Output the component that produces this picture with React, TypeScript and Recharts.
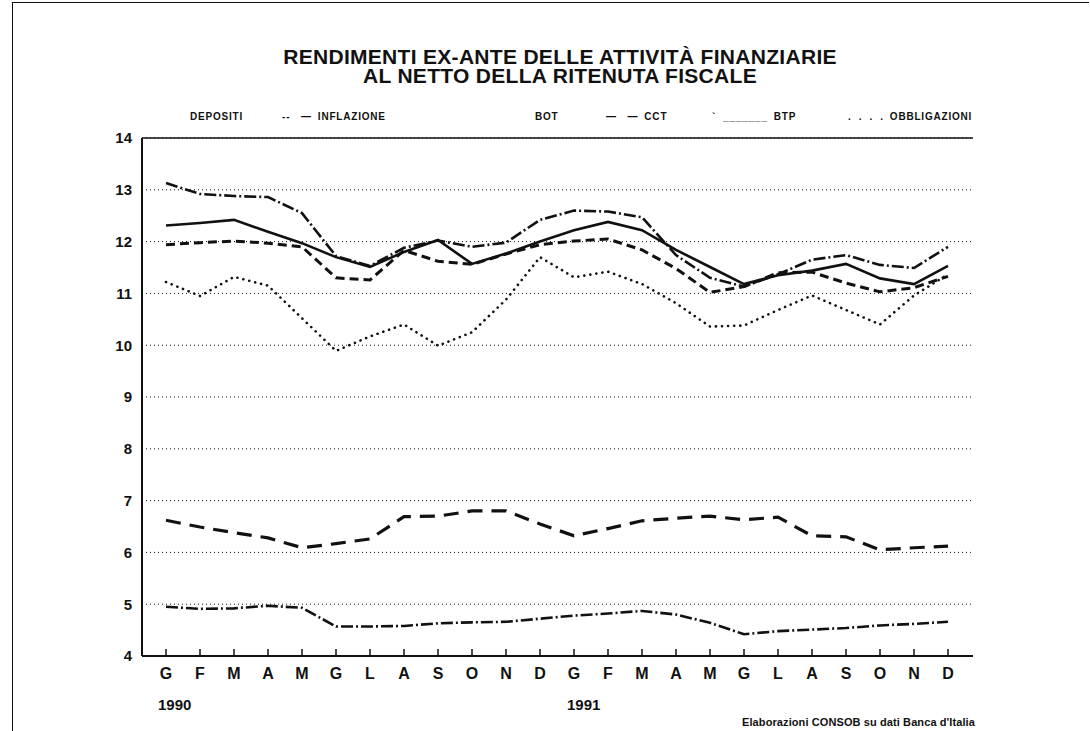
import React from 'react';
import { LineChart, Line, XAxis, YAxis, CartesianGrid, ReferenceLine } from 'recharts';

const months = ['G','F','M','A','M','G','L','A','S','O','N','D','G','F','M','A','M','G','L','A','S','O','N','D'];
const years = [{ label: '1990', index: 0 }, { label: '1991', index: 12 }];
const yTicks = [4, 5, 6, 7, 8, 9, 10, 11, 12, 13, 14];
const titleLines = ['RENDIMENTI EX-ANTE DELLE ATTIVITÀ FINANZIARIE', 'AL NETTO DELLA RITENUTA FISCALE'];

const depositi = [4.95, 4.91, 4.92, 4.97, 4.93, 4.57, 4.57, 4.58, 4.63, 4.65, 4.66, 4.72, 4.78, 4.82, 4.87, 4.80, 4.64, 4.42, 4.48, 4.51, 4.54, 4.59, 4.62, 4.66];
const inflazione = [6.62, 6.49, 6.38, 6.28, 6.09, 6.17, 6.26, 6.69, 6.70, 6.80, 6.80, 6.55, 6.32, 6.46, 6.61, 6.66, 6.70, 6.63, 6.68, 6.32, 6.30, 6.05, 6.09, 6.12];
const bot = [13.13, 12.92, 12.88, 12.86, 12.55, 11.72, 11.53, 11.88, 12.02, 11.90, 11.98, 12.42, 12.60, 12.58, 12.47, 11.74, 11.30, 11.13, 11.37, 11.65, 11.74, 11.55, 11.49, 11.90];
const cct = [11.94, 11.98, 12.01, 11.97, 11.90, 11.30, 11.26, 11.83, 11.62, 11.56, 11.76, 11.94, 12.01, 12.05, 11.84, 11.48, 11.02, 11.13, 11.40, 11.41, 11.20, 11.03, 11.11, 11.33];
const btp = [12.31, 12.36, 12.42, 12.19, 11.97, 11.70, 11.51, 11.80, 12.03, 11.57, 11.77, 12.00, 12.22, 12.38, 12.22, 11.84, 11.51, 11.18, 11.35, 11.44, 11.57, 11.29, 11.18, 11.53];
const obbligazioni = [11.22, 10.95, 11.32, 11.15, 10.52, 9.89, 10.17, 10.40, 9.99, 10.25, 10.88, 11.70, 11.31, 11.42, 11.18, 10.81, 10.36, 10.38, 10.68, 10.96, 10.68, 10.40, 10.96, 11.37];

const data = months.map((m, i) => ({
  idx: i,
  depositi: depositi[i],
  inflazione: inflazione[i],
  bot: bot[i],
  cct: cct[i],
  btp: btp[i],
  obbligazioni: obbligazioni[i],
}));

const INK = '#111';
const FONT = '"Liberation Sans", Arial, Helvetica, sans-serif';

const series = [
  { key: 'depositi', width: 2.6, dash: '12 3 2 3', cap: 'butt' },
  { key: 'inflazione', width: 3.2, dash: '15 9', cap: 'butt' },
  { key: 'bot', width: 2.6, dash: '12 3 2 3', cap: 'butt' },
  { key: 'cct', width: 3, dash: '9 5', cap: 'butt' },
  { key: 'btp', width: 2.6, dash: undefined, cap: 'butt' },
  { key: 'obbligazioni', width: 2.6, dash: '0.1 6', cap: 'round' },
];

const legendItems = [
  { sample: '', label: 'DEPOSITI', left: 190 },
  { sample: '--   \u2014', label: 'INFLAZIONE', left: 282 },
  { sample: '', label: 'BOT', left: 535 },
  { sample: '\u2014   \u2014', label: 'CCT', left: 606 },
  { sample: '`  _______', label: 'BTP', left: 712 },
  { sample: '.  .  .  .', label: 'OBBLIGAZIONI', left: 848 },
];

const XTick = (props: any) => {
  const { x, y, payload } = props;
  return (
    <g>
      <line x1={x} x2={x} y1={y} y2={y - 7} stroke={INK} strokeWidth={1.5} />
      <text x={x} y={y + 23} textAnchor="middle" fontSize={16} fontWeight="bold" fill={INK} fontFamily={FONT}>
        {months[payload.value]}
      </text>
    </g>
  );
};

export default function App() {
  return (
    <div style={{ position: 'absolute', left: 0, top: 0, width: 1090, height: 731, background: '#fff', overflow: 'hidden', fontFamily: FONT, color: INK }}>
      <div style={{ position: 'absolute', left: 12, top: 2, width: 1076, height: 760, borderLeft: `1.5px solid ${INK}`, borderTop: `1.5px solid ${INK}` }} />
      <div style={{ position: 'absolute', left: 0, width: 1120, top: 47, textAlign: 'center', fontWeight: 'bold', fontSize: 21, lineHeight: '19px', letterSpacing: 0.3, whiteSpace: 'pre-line' }}>
        {titleLines.join('\n')}
      </div>
      {legendItems.map((it) => (
        <div key={it.label} style={{ position: 'absolute', left: it.left, top: 111, fontSize: 10, fontWeight: 'bold', whiteSpace: 'pre', letterSpacing: 0.8 }}>
          {it.sample ? <span style={{ marginRight: 6 }}>{it.sample}</span> : null}
          <span>{it.label}</span>
        </div>
      ))}
      <div style={{ position: 'absolute', left: 0, top: 0 }}>
        <LineChart width={1090} height={731} data={data} margin={{ top: 138, right: 117, bottom: 45, left: 102 }}>
          <CartesianGrid vertical={false} stroke={INK} strokeDasharray="1 3" strokeWidth={1} />
          <XAxis
            dataKey="idx"
            type="category"
            padding={{ left: 24, right: 25 }}
            height={30}
            tickSize={0}
            tickMargin={0}
            tickLine={false}
            interval={0}
            axisLine={{ stroke: INK, strokeWidth: 2 }}
            tick={<XTick />}
          />
          <YAxis
            domain={[4, 14]}
            ticks={yTicks}
            interval={0}
            width={40}
            tickLine={false}
            tickSize={0}
            tickMargin={10}
            axisLine={{ stroke: INK, strokeWidth: 2 }}
            tick={{ fontSize: 15, fontWeight: 'bold', fill: INK, fontFamily: FONT }}
          />
          <YAxis yAxisId="frame" orientation="right" domain={[4, 14]} width={0} tick={false} tickLine={false} axisLine={{ stroke: INK, strokeWidth: 2 }} />
          <ReferenceLine y={14} stroke={INK} strokeWidth={1.5} />
          {series.map((s) => (
            <Line
              key={s.key}
              dataKey={s.key}
              type="linear"
              stroke={INK}
              strokeWidth={s.width}
              strokeDasharray={s.dash}
              strokeLinecap={s.cap as any}
              dot={false}
              activeDot={false}
              isAnimationActive={false}
            />
          ))}
        </LineChart>
      </div>
      {years.map((yr) => (
        <div key={yr.label} style={{ position: 'absolute', left: yr.index === 0 ? 158 : 567, top: 696, fontSize: 15, fontWeight: 'bold' }}>
          {yr.label}
        </div>
      ))}
      <div style={{ position: 'absolute', left: 742, top: 716, fontSize: 11, fontWeight: 'bold', letterSpacing: 0.1, whiteSpace: 'nowrap' }}>
        Elaborazioni CONSOB su dati Banca d'Italia
      </div>
    </div>
  );
}
